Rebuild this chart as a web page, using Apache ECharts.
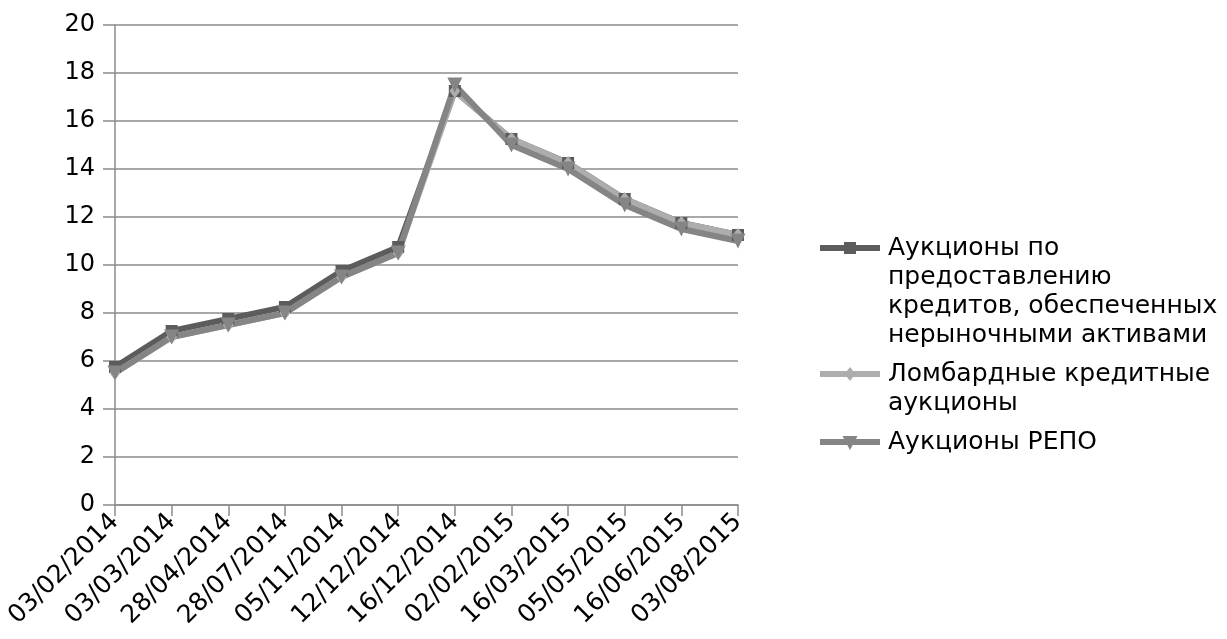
<!DOCTYPE html>
<html>
<head>
<meta charset="utf-8">
<script src="https://cdn.jsdelivr.net/npm/echarts@6/dist/echarts.min.js"></script>
<style>
  html, body { margin: 0; padding: 0; background: #ffffff; }
  #chart { width: 1227px; height: 639px; }
</style>
</head>
<body>
<div id="chart"></div>
<script>
// Auction dates (x categories)
const categories = ['03/02/2014', '03/03/2014', '28/04/2014', '28/07/2014', '05/11/2014', '12/12/2014',
                    '16/12/2014', '02/02/2015', '16/03/2015', '05/05/2015', '16/06/2015', '03/08/2015'];

// Minimum auction rates, % per annum
const nonMarketAssets = [5.75, 7.25, 7.75, 8.25, 9.75, 10.75, 17.25, 15.25, 14.25, 12.75, 11.75, 11.25];
const lombardAuctions = [5.5, 7.0, 7.5, 8.0, 9.5, 10.5, 17.25, 15.25, 14.25, 12.75, 11.75, 11.25];
const repoAuctions = [5.5, 7.0, 7.5, 8.0, 9.5, 10.5, 17.5, 15.0, 14.0, 12.5, 11.5, 11.0];

// Legend text, one entry per line
const seriesNames = [
  'Аукционы по предоставлению кредитов, обеспеченных нерыночными активами',
  'Ломбардные кредитные аукционы',
  'Аукционы РЕПО'
];
const legendLines = [
  ['Аукционы по', 'предоставлению', 'кредитов, обеспеченных', 'нерыночными активами'],
  ['Ломбардные кредитные', 'аукционы'],
  ['Аукционы РЕПО']
];

const yTicks = { min: 0, max: 20, interval: 2 };

const FONT = '"DejaVu Sans", sans-serif';
const GRID_COLOR = '#8c8c8c';
const colors = ['#5c5c5c', '#adadad', '#858585'];

const chart = echarts.init(document.getElementById('chart'), null, { renderer: 'canvas' });

// Hand-built legend: the swatch sits on the first line of each entry
const legendGraphics = [];
const legendX = 820, swatchW = 60, textX = 888, lineH = 29, itemGap = 10;
let cy = 248;
legendLines.forEach((lines, i) => {
  const c = colors[i];
  legendGraphics.push({
    type: 'line', silent: true,
    shape: { x1: legendX, y1: cy, x2: legendX + swatchW, y2: cy },
    style: { stroke: c, lineWidth: 6 }
  });
  const mx = legendX + swatchW / 2;
  if (i === 0) {
    legendGraphics.push({ type: 'rect', silent: true, shape: { x: mx - 6, y: cy - 6, width: 12, height: 12 }, style: { fill: c } });
  } else if (i === 1) {
    legendGraphics.push({ type: 'polygon', silent: true, shape: { points: [[mx, cy - 7], [mx + 5.5, cy], [mx, cy + 7], [mx - 5.5, cy]] }, style: { fill: c } });
  } else {
    legendGraphics.push({ type: 'polygon', silent: true, shape: { points: [[mx - 7.5, cy - 6], [mx + 7.5, cy - 6], [mx, cy + 8]] }, style: { fill: c } });
  }
  lines.forEach((t, k) => {
    legendGraphics.push({
      type: 'text', silent: true,
      x: textX, y: cy + k * lineH,
      style: { text: t, font: '25px ' + FONT, fill: '#000000', align: 'left', verticalAlign: 'middle' }
    });
  });
  cy += lines.length * lineH + itemGap;
});

const seriesData = [nonMarketAssets, lombardAuctions, repoAuctions];
const symbols = ['rect', 'diamond', 'triangle'];
const symbolSizes = [12, [11, 14], 15];
const symbolRotates = [0, 0, 180];

chart.setOption({
  animation: false,
  backgroundColor: '#ffffff',
  grid: { left: 115, right: 489, top: 25, bottom: 134, containLabel: false },
  xAxis: {
    type: 'category',
    data: categories,
    boundaryGap: false,
    axisLine: { show: true, lineStyle: { color: GRID_COLOR, width: 1.5 } },
    axisTick: { show: true, length: 11, lineStyle: { color: GRID_COLOR, width: 1.5 } },
    axisLabel: { rotate: 45, margin: 13, interval: 0, color: '#000000', fontFamily: FONT, fontSize: 25 },
    splitLine: { show: false }
  },
  yAxis: {
    type: 'value',
    min: yTicks.min, max: yTicks.max, interval: yTicks.interval,
    axisLine: { show: true, lineStyle: { color: GRID_COLOR, width: 1.5 } },
    axisTick: { show: true, length: 12, lineStyle: { color: GRID_COLOR, width: 1.5 } },
    axisLabel: { margin: 20, color: '#000000', fontFamily: FONT, fontSize: 24 },
    splitLine: { show: true, lineStyle: { color: GRID_COLOR, width: 1.5 } }
  },
  series: seriesData.map((d, i) => ({
    name: seriesNames[i],
    type: 'line',
    data: d,
    symbol: symbols[i],
    symbolSize: symbolSizes[i],
    symbolRotate: symbolRotates[i],
    showAllSymbol: true,
    lineStyle: { color: colors[i], width: 6 },
    itemStyle: { color: colors[i], borderWidth: 0 },
    emphasis: { disabled: true }
  })),
  graphic: legendGraphics
});
</script>
</body>
</html>
